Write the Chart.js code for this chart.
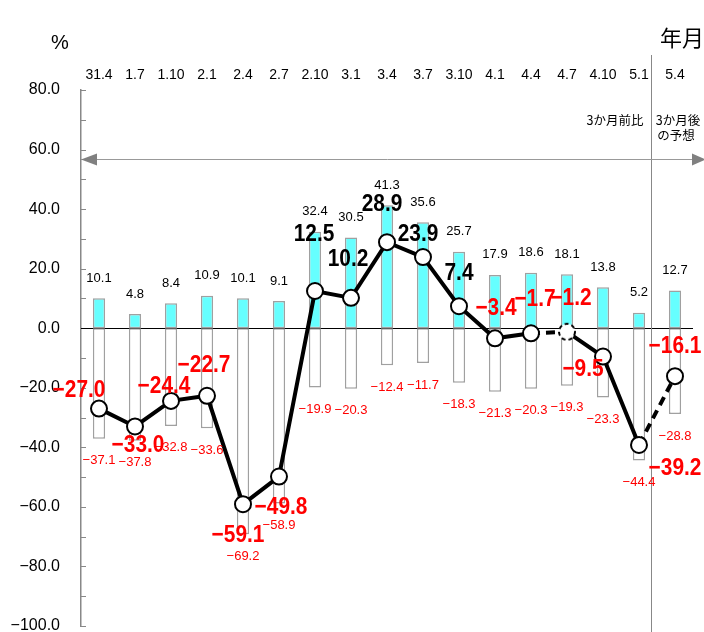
<!DOCTYPE html>
<html>
<head>
<meta charset="utf-8">
<script src="https://cdn.jsdelivr.net/npm/chart.js@4.4.0/dist/chart.umd.min.js"></script>
<style>
  body { margin: 0; background: #fff; }
  #wrap { width: 704px; height: 632px; position: relative; }
</style>
</head>
<body>
<div id="wrap"><canvas id="chart"></canvas></div>
<script>
// Data
const months = ['31.4', '1.7', '1.10', '2.1', '2.4', '2.7', '2.10', '3.1', '3.4', '3.7', '3.10', '4.1', '4.4', '4.7', '4.10', '5.1', '5.4'];
const upShare = [10.1, 4.8, 8.4, 10.9, 10.1, 9.1, 32.4, 30.5, 41.3, 35.6, 25.7, 17.9, 18.6, 18.1, 13.8, 5.2, 12.7];
const downShare = [-37.1, -37.8, -32.8, -33.6, -69.2, -58.9, -19.9, -20.3, -12.4, -11.7, -18.3, -21.3, -20.3, -19.3, -23.3, -44.4, -28.8];
const diValues = [-27.0, -33.0, -24.4, -22.7, -59.1, -49.8, 12.5, 10.2, 28.9, 23.9, 7.4, -3.4, -1.7, -1.2, -9.5, -39.2, -16.1];

// where each DI label sits relative to its point (dx, dy)
const diLabelShift = [
    [-20, -18], [3, 19], [-7, -15], [-3, -30], [-5, 31], [2, 31],
    [-1, -57], [-3, -38], [-5, -38], [-5, -23], [0, -33], [1, -30],
    [4, -34], [4, -33], [-20, 13], [36, 23], [0, -30]
];

const fmt = v => (v < 0 ? '\u2212' : '') + Math.abs(v).toFixed(1);

// dashed marker for the 4.7 point
function dashedDot() {
    const c = document.createElement('canvas');
    c.width = 22; c.height = 22;
    const g = c.getContext('2d');
    g.beginPath();
    g.arc(11, 11, 8, 0, Math.PI * 2);
    g.fillStyle = '#fff';
    g.fill();
    g.setLineDash([4, 3]);
    g.lineWidth = 2;
    g.strokeStyle = '#000';
    g.stroke();
    return c;
}
const dashedPoint = dashedDot();

const decor = {
    id: 'decor',
    beforeDatasetsDraw(chart) {
        const { ctx, chartArea: a, scales: { x, y } } = chart;
        ctx.save();
        // inner ticks on the y axis
        ctx.strokeStyle = '#888';
        ctx.lineWidth = 1;
        y.ticks.forEach(t => {
            const py = Math.round(y.getPixelForValue(t.value)) + 0.5;
            ctx.beginPath();
            ctx.moveTo(a.left, py);
            ctx.lineTo(a.left + 5, py);
            ctx.stroke();
        });
        // zero line
        const y0 = Math.round(y.getPixelForValue(0)) + 0.5;
        ctx.strokeStyle = '#000';
        ctx.beginPath();
        ctx.moveTo(a.left, y0);
        ctx.lineTo(a.right, y0);
        ctx.stroke();
        // divider between actual and forecast
        const xd = Math.round(x.getPixelForValue(15) + (x.getPixelForValue(16) - x.getPixelForValue(15)) / 3) + 0.5;
        ctx.strokeStyle = '#888';
        ctx.beginPath();
        ctx.moveTo(xd, 55);
        ctx.lineTo(xd, chart.height);
        ctx.stroke();
        // double arrow
        const ya = Math.round(y.getPixelForValue(56.7)) + 0.5;
        ctx.strokeStyle = '#999';
        ctx.beginPath();
        ctx.moveTo(a.left, ya);
        ctx.lineTo(chart.width - 10, ya);
        ctx.stroke();
        ctx.fillStyle = '#808080';
        ctx.beginPath();
        ctx.moveTo(a.left, ya);
        ctx.lineTo(a.left + 16, ya - 6);
        ctx.lineTo(a.left + 16, ya + 6);
        ctx.fill();
        ctx.beginPath();
        ctx.moveTo(chart.width + 2, ya);
        ctx.lineTo(chart.width - 12, ya - 6);
        ctx.lineTo(chart.width - 12, ya + 6);
        ctx.fill();
        // texts
        ctx.fillStyle = '#000';
        ctx.textBaseline = 'middle';
        ctx.textAlign = 'center';
        ctx.font = '20px "Liberation Sans"';
        ctx.fillText('%', 60, 43);
        ctx.font = '22px "Noto Sans CJK JP"';
        ctx.fillText('年月', 682, 38);
        ctx.font = '12.5px "Noto Sans CJK JP"';
        ctx.textAlign = 'right';
        ctx.fillText('3か月前比', xd - 8, 120);
        ctx.textAlign = 'center';
        ctx.fillText('3か月後', 678, 120);
        ctx.fillText('の予想', 676, 135);
        ctx.restore();
    },
    afterDatasetsDraw(chart) {
        const { ctx } = chart;
        ctx.save();
        ctx.textAlign = 'center';
        ctx.textBaseline = 'middle';
        // bar labels
        ctx.font = '13px "Liberation Sans"';
        chart.getDatasetMeta(1).data.forEach((bar, i) => {
            ctx.fillStyle = '#000';
            ctx.fillText(fmt(upShare[i]), bar.x, bar.y - 20);
        });
        chart.getDatasetMeta(2).data.forEach((bar, i) => {
            ctx.fillStyle = '#ff0000';
            ctx.fillText(fmt(downShare[i]), bar.x, bar.y + 22);
        });
        // DI labels
        ctx.font = 'bold 24px "Liberation Sans"';
        chart.getDatasetMeta(0).data.forEach((pt, i) => {
            const [dx, dy] = diLabelShift[i];
            ctx.fillStyle = diValues[i] < 0 ? '#ff0000' : '#000';
            ctx.save();
            ctx.translate(pt.x + dx, pt.y + dy);
            ctx.scale(0.87, 1);
            ctx.fillText(fmt(diValues[i]), 0, 0);
            ctx.restore();
        });
        ctx.restore();
    }
};

const ctx = document.getElementById('chart').getContext('2d');
const chart = new Chart(ctx, {
    type: 'bar',
    data: {
        labels: months,
        datasets: [{
            type: 'line',
            data: diValues,
            order: 0,
            borderColor: '#000',
            borderWidth: 4,
            pointRadius: 8,
            pointBorderWidth: 2,
            pointBorderColor: '#000',
            pointBackgroundColor: '#fff',
            pointStyle: c => c.dataIndex === 13 ? dashedPoint : 'circle',
            segment: {
                borderDash: c => (c.p0DataIndex === 12 || c.p0DataIndex === 15) ? [9, 6] : undefined
            }
        }, {
            data: upShare,
            order: 1,
            grouped: false,
            backgroundColor: '#66ffff',
            borderColor: '#a0a0a0',
            borderWidth: 1.5,
            borderSkipped: false,
            barPercentage: 0.34,
            categoryPercentage: 1
        }, {
            data: downShare,
            order: 1,
            grouped: false,
            backgroundColor: '#fff',
            borderColor: '#a0a0a0',
            borderWidth: 1.5,
            borderSkipped: false,
            barPercentage: 0.34,
            categoryPercentage: 1
        }]
    },
    options: {
        responsive: true,
        maintainAspectRatio: false,
        animation: false,
        layout: { autoPadding: false, padding: { top: 62, right: 11, bottom: 6, left: 0 } },
        plugins: { legend: { display: false }, tooltip: { enabled: false } },
        scales: {
            x: {
                position: 'top',
                grid: { display: false, drawTicks: false },
                border: { display: false },
                ticks: {
                    color: '#000',
                    font: { family: 'Liberation Sans', size: 14 },
                    padding: 6,
                    maxRotation: 0,
                    autoSkip: false
                },
                afterFit: s => { s.height = 28; }
            },
            y: {
                min: -100,
                max: 80,
                grid: { display: false, drawTicks: true, tickLength: 21 },
                border: { display: true, color: '#888', width: 1.5 },
                ticks: {
                    stepSize: 10,
                    color: '#000',
                    font: { family: 'Liberation Sans', size: 16 },
                    padding: 0,
                    callback: v => v % 20 === 0 ? fmt(v) : ''
                },
                afterFit: s => {
                    s.width = 81;
                    s.paddingTop = 0;
                    s.paddingBottom = 0;
                }
            }
        }
    },
    plugins: [decor]
});
</script>
</body>
</html>
